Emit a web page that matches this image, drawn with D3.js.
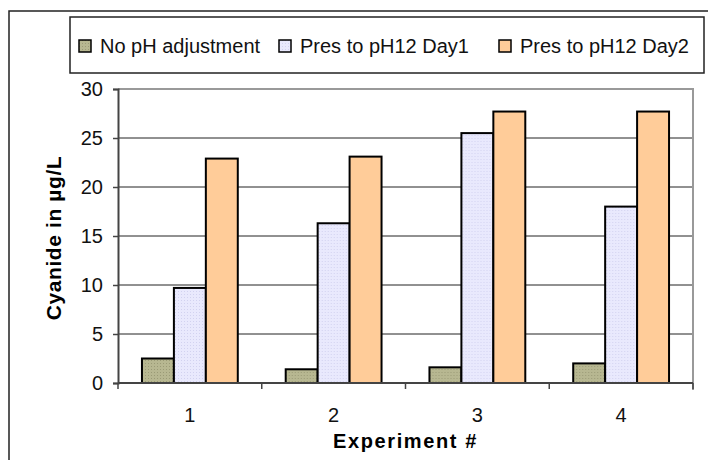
<!DOCTYPE html>
<html>
<head>
<meta charset="utf-8">
<script src="https://cdn.jsdelivr.net/npm/d3@7"></script>
<style>
    body { margin: 0; background: #fff; }
    svg { display: block; font-family: Arial, "Liberation Sans", sans-serif; }
</style>
</head>
<body>
<div id="chart"></div>
<script>
var experiments = ['1', '2', '3', '4'];
var seriesNames = ['No pH adjustment', 'Pres to pH12 Day1', 'Pres to pH12 Day2'];
var noAdjustment = [2.5, 1.4, 1.6, 2.0];
var presDay1 = [9.7, 16.3, 25.5, 18.0];
var presDay2 = [22.9, 23.1, 27.7, 27.7];
var yTicks = [0, 5, 10, 15, 20, 25, 30];

var series = [noAdjustment, presDay1, presDay2];

var W = 708, H = 460;
var plot = { left: 118, right: 693, top: 89, bottom: 383 };
var FONT = 20;

var svg = d3.select('#chart').append('svg')
    .attr('width', W)
    .attr('height', H);

setupPatterns();

// outer chart border (runs off the right and bottom edges)
svg.append('rect')
    .attr('x', 9).attr('y', 11)
    .attr('width', W).attr('height', H)
    .attr('fill', 'none')
    .attr('stroke', '#222')
    .attr('stroke-width', 1.5);

var x0 = d3.scaleBand()
    .domain(experiments)
    .range([plot.left, plot.right]);

var x1 = d3.scaleBand()
    .domain(d3.range(series.length))
    .range([0, x0.bandwidth()])
    .paddingOuter(0.75)
    .paddingInner(0);

var y = d3.scaleLinear()
    .domain([0, 30])
    .range([plot.bottom, plot.top]);

// gridlines
svg.append('g')
    .selectAll('line')
    .data(yTicks.slice(1, -1))
    .join('line')
    .attr('x1', plot.left).attr('x2', plot.right)
    .attr('y1', function (d) { return y(d); })
    .attr('y2', function (d) { return y(d); })
    .attr('stroke', '#222')
    .attr('stroke-width', 1);

// plot area top and right border
svg.append('path')
    .attr('d', 'M' + plot.left + ',' + plot.top + 'H' + plot.right + 'V' + (plot.bottom + 7))
    .attr('fill', 'none')
    .attr('stroke', '#999')
    .attr('stroke-width', 2);

// bars
var fills = ['url(#pat-green)', 'url(#pat-lav)', '#ffcc99'];
var groups = svg.append('g')
    .selectAll('g')
    .data(experiments)
    .join('g')
    .attr('transform', function (d) { return 'translate(' + x0(d) + ',0)'; });

groups.selectAll('rect')
    .data(function (d, i) {
        return series.map(function (s, k) { return { k: k, v: s[i] }; });
    })
    .join('rect')
    .attr('x', function (d) { return x1(d.k); })
    .attr('width', x1.bandwidth())
    .attr('y', function (d) { return y(d.v); })
    .attr('height', function (d) { return y(0) - y(d.v); })
    .attr('fill', function (d) { return fills[d.k]; })
    .attr('stroke', '#000')
    .attr('stroke-width', 2);

// y axis
var yAxis = svg.append('g')
    .attr('transform', 'translate(' + plot.left + ',0)')
    .call(d3.axisLeft(y).tickValues(yTicks).tickSize(5).tickPadding(10));
styleAxis(yAxis);

// x axis: ticks sit between the groups
var xAxis = svg.append('g')
    .attr('transform', 'translate(0,' + plot.bottom + ')');
xAxis.append('line')
    .attr('x1', plot.left).attr('x2', plot.right)
    .attr('stroke', '#444').attr('stroke-width', 2);
xAxis.selectAll('line.tick')
    .data(experiments.concat(['end']))
    .join('line')
    .attr('class', 'tick')
    .attr('x1', function (d, i) { return plot.left + i * x0.step(); })
    .attr('x2', function (d, i) { return plot.left + i * x0.step(); })
    .attr('y1', 0).attr('y2', 6)
    .attr('stroke', '#444').attr('stroke-width', 1.5);
xAxis.selectAll('text')
    .data(experiments)
    .join('text')
    .attr('x', function (d) { return x0(d) + x0.bandwidth() / 2; })
    .attr('y', 39)
    .attr('text-anchor', 'middle')
    .attr('font-size', FONT)
    .attr('fill', '#111')
    .text(function (d) { return d; });

// axis titles
svg.append('text')
    .attr('x', (plot.left + plot.right) / 2)
    .attr('y', 448)
    .attr('text-anchor', 'middle')
    .attr('font-size', FONT)
    .attr('font-weight', 'bold')
    .attr('letter-spacing', 1.6)
    .text('Experiment #');

svg.append('text')
    .attr('transform', 'translate(61,' + ((plot.top + plot.bottom) / 2 + 2) + ') rotate(-90)')
    .attr('text-anchor', 'middle')
    .attr('font-size', 21)
    .attr('font-weight', 'bold')
    .attr('letter-spacing', 0.6)
    .text('Cyanide in µg/L');

renderLegend();

function styleAxis(g) {
    g.select('.domain').attr('stroke', '#444').attr('stroke-width', 2);
    g.selectAll('.tick line').attr('stroke', '#444').attr('stroke-width', 1.5);
    g.selectAll('.tick text').attr('font-size', FONT).attr('fill', '#111')
        .attr('font-family', 'Arial, "Liberation Sans", sans-serif');
}

function renderLegend() {
    var legend = svg.append('g');
    legend.append('rect')
        .attr('x', 70).attr('y', 17)
        .attr('width', 634).attr('height', 56)
        .attr('fill', '#fff')
        .attr('stroke', '#222')
        .attr('stroke-width', 1.5);

    var itemX = [79, 279, 499];
    var items = legend.selectAll('g.item')
        .data(seriesNames)
        .join('g')
        .attr('class', 'item')
        .attr('transform', function (d, i) { return 'translate(' + itemX[i] + ',46)'; });

    items.append('rect')
        .attr('x', 0).attr('y', -6)
        .attr('width', 12).attr('height', 12)
        .attr('fill', function (d, i) { return fills[i]; })
        .attr('stroke', '#000')
        .attr('stroke-width', 1.5);

    items.append('text')
        .attr('x', 21)
        .attr('dy', '0.36em')
        .attr('font-size', FONT)
        .attr('fill', '#111')
        .text(function (d) { return d; });
}

function setupPatterns() {
    var defs = svg.append('defs');
    addPattern('pat-green', '#b7b791', '#9a9a76');
    addPattern('pat-lav', '#e9e9fd', '#d2d2f0');

    function addPattern(id, base, dot) {
        var p = defs.append('pattern')
            .attr('id', id)
            .attr('patternUnits', 'userSpaceOnUse')
            .attr('width', 3).attr('height', 3);
        p.append('rect').attr('width', 3).attr('height', 3).attr('fill', base);
        p.append('rect').attr('width', 1).attr('height', 1).attr('fill', dot);
    }
}
</script>
</body>
</html>
